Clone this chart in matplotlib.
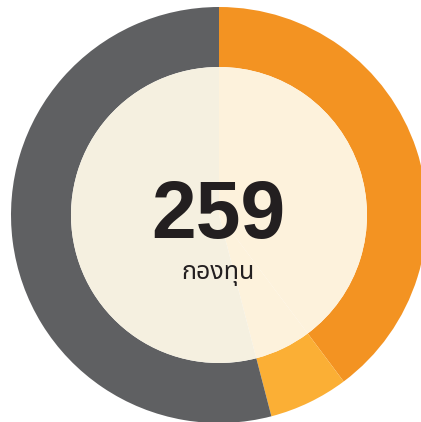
import matplotlib
matplotlib.use('Agg')
import matplotlib.pyplot as plt

# fund counts per segment (clockwise from 12 o'clock)
labels = ['orange', 'light orange', 'gray']
counts = [103, 16, 140]
total_text = '259'
unit_text = 'กองทุน'

ring_colors = ['#F39322', '#FBAF35', '#5F6062']
inner_colors = ['#FDF2DC', '#FDF2DC', '#F5F0E0']

fig = plt.figure(figsize=(4.21, 4.22), dpi=100)
ax = fig.add_axes([0, 0, 1, 1])

cx, cy = 219, 207
r_out, r_in = 208, 148

# outer ring
ax.pie(counts, colors=ring_colors, radius=r_out, center=(cx, cy),
       startangle=90, counterclock=False, frame=True,
       wedgeprops=dict(width=r_out - r_in, linewidth=0))
# tinted inner disc, split like the ring
ax.pie(counts, colors=inner_colors, radius=r_in, center=(cx, cy),
       startangle=90, counterclock=False, frame=True,
       wedgeprops=dict(linewidth=0))
ax.set_xlim(0, 421)
ax.set_ylim(0, 422)
ax.axis('off')

ax.text(cx - 1, 184, total_text, fontsize=58, fontweight='bold',
        family='Liberation Sans', color='#231F20', ha='center', va='baseline')
ax.text(cx - 1, 143, unit_text, fontsize=18, fontweight='bold',
        family=['Noto Sans Thai', 'DejaVu Sans'], color='#231F20',
        ha='center', va='baseline')

fig.savefig('out.png', dpi=100)
